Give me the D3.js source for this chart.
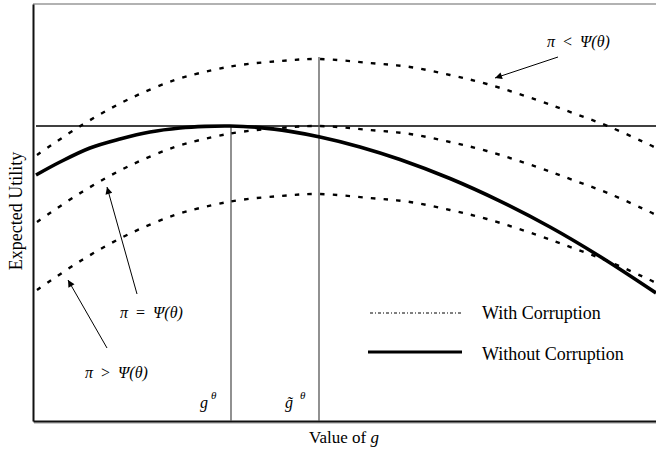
<!DOCTYPE html>
<html><head><meta charset="utf-8">
<script src="https://cdn.jsdelivr.net/npm/d3@7"></script>
<style>
html,body{margin:0;padding:0;background:#fff;}
text{font-family:"Liberation Serif","Times New Roman",serif;fill:#000;}
</style></head>
<body><svg id="c" width="656" height="452"></svg>
<script>
// ---- data (g in abstract units, utility in abstract units) ----
const gValues      = [0.4, 4.9, 9.4, 14.2, 18.0, 20.7, 24.7, 28.5, 33.7, 37.7, 41.7, 45.4, 50.4, 54.0, 57.7, 61.7, 62.3];
const withCorrHigh = [26.6, 29.6, 32.1, 34.1, 35.1, 35.6, 36.0, 36.2, 35.8, 35.4, 34.6, 33.7, 32.1, 30.8, 29.4, 27.6, 27.3];
const withCorrEq   = [19.9, 22.9, 25.4, 27.4, 28.4, 28.9, 29.3, 29.5, 29.1, 28.7, 27.9, 27.0, 25.4, 24.1, 22.7, 20.9, 20.6];
const withCorrLow  = [13.1, 16.1, 18.6, 20.6, 21.6, 22.1, 22.5, 22.7, 22.3, 21.9, 21.1, 20.2, 18.6, 17.3, 15.9, 14.1, 13.8];
const gNoCorr      = [0.3, 2.7, 5.7, 8.7, 11.7, 14.7, 17.2, 19.7, 22.7, 25.7, 28.7, 32.7, 36.7, 41.7, 46.7, 51.7, 56.7, 62.3];
const withoutCorr  = [24.6, 25.9, 27.3, 28.2, 28.9, 29.3, 29.46, 29.5, 29.34, 28.96, 28.4, 27.41, 26.15, 24.25, 21.99, 19.4, 16.45, 12.8];
const refLevel = 29.5;      // horizontal reference utility
const gTheta = 19.8;        // g^theta
const gTildeTheta = 28.6;   // g~^theta
const xLabel = "Value of ", xLabelVar = "g";
const yLabel = "Expected Utility";
const legendLabels = ["With Corruption", "Without Corruption"];

const svg = d3.select("#c");
const x = d3.scaleLinear().domain([0, 62.3]).range([33, 656]);
const y = d3.scaleLinear().domain([0, 41.7]).range([421, 4]);

const line = d3.line().x(d => x(d[0])).y(d => y(d[1])).curve(d3.curveCatmullRom.alpha(0.5));

// frame
svg.append("line").attr("x1", 33).attr("x2", 656).attr("y1", 4).attr("y2", 4)
  .attr("stroke", "#999").attr("stroke-width", 1.5);
svg.append("line").attr("x1", 34).attr("x2", 656).attr("y1", 423).attr("y2", 423)
  .attr("stroke", "#999").attr("stroke-width", 1.2);

// axes (no ticks)
svg.append("g").attr("transform", "translate(0,421)")
  .call(d3.axisBottom(x).tickValues([]).tickSizeOuter(0))
  .select(".domain").attr("stroke", "#111").attr("stroke-width", 2);
svg.append("g").attr("transform", "translate(33,0)")
  .call(d3.axisLeft(y).tickValues([]).tickSizeOuter(0))
  .select(".domain").attr("stroke", "#111").attr("stroke-width", 2);

// horizontal reference
svg.append("line").attr("x1", x(0.3)).attr("x2", x(62.3))
  .attr("y1", y(refLevel)).attr("y2", y(refLevel))
  .attr("stroke", "#000").attr("stroke-width", 1.3);

// vertical lines
svg.append("line").attr("x1", x(gTheta)).attr("x2", x(gTheta))
  .attr("y1", y(refLevel)).attr("y2", y(0))
  .attr("stroke", "#555").attr("stroke-width", 1.3);
svg.append("line").attr("x1", x(gTildeTheta)).attr("x2", x(gTildeTheta))
  .attr("y1", y(36.4)).attr("y2", y(0))
  .attr("stroke", "#555").attr("stroke-width", 1.3);

// dotted curves
[withCorrHigh, withCorrEq, withCorrLow].forEach(s => {
  svg.append("path").datum(gValues.map((g, i) => [g, s[i]]))
    .attr("d", line).attr("fill", "none").attr("stroke", "#000")
    .attr("stroke-width", 2.4).attr("stroke-dasharray", "4.5 8.2");
});
// solid curve
svg.append("path").datum(gNoCorr.map((g, i) => [g, withoutCorr[i]]))
  .attr("d", line).attr("fill", "none").attr("stroke", "#000")
  .attr("stroke-width", 3.6);

// arrows
svg.append("defs").append("marker").attr("id", "ah")
  .attr("viewBox", "0 0 10 10").attr("refX", 10).attr("refY", 5)
  .attr("markerWidth", 11).attr("markerHeight", 7).attr("markerUnits", "userSpaceOnUse")
  .attr("orient", "auto")
  .append("path").attr("d", "M0,0 L10,5 L0,10 Z").attr("fill", "#000");
const arrows = [
  [[52.5, 36.4], [46.2, 34.3]],
  [[10.4, 12.7], [7.4, 23.4]],
  [[7.4, 7.3], [3.5, 14.1]]
];
arrows.forEach(a => {
  svg.append("line").attr("x1", x(a[0][0])).attr("y1", y(a[0][1]))
    .attr("x2", x(a[1][0])).attr("y2", y(a[1][1]))
    .attr("stroke", "#000").attr("stroke-width", 1).attr("marker-end", "url(#ah)");
});

// annotation labels
function piLabel(px, py, rel) {
  const t = svg.append("text").attr("x", px).attr("y", py).attr("font-size", 16)
    .attr("xml:space", "preserve");
  t.append("tspan").attr("font-style", "italic").text("\u03C0");
  t.append("tspan").text("  " + rel + "  ");
  t.append("tspan").attr("font-style", "italic").text("\u03A8(\u03B8)");
}
piLabel(547, 47, "<");
piLabel(120, 318, "=");
piLabel(85, 378, ">");

// g labels
const gl1 = svg.append("text").attr("x", 200).attr("y", 408).attr("font-size", 16).attr("font-style", "italic");
gl1.append("tspan").text("g");
gl1.append("tspan").attr("font-size", 11).attr("dx", 3).attr("dy", -9).text("\u03B8");
const gl2 = svg.append("text").attr("x", 285).attr("y", 408).attr("font-size", 16).attr("font-style", "italic");
gl2.append("tspan").text("g\u0303");
gl2.append("tspan").attr("font-size", 11).attr("dx", 7).attr("dy", -9).text("\u03B8");

// axis labels
const xl = svg.append("text").attr("x", 344).attr("y", 443).attr("font-size", 17).attr("text-anchor", "middle");
xl.append("tspan").text(xLabel);
xl.append("tspan").attr("font-style", "italic").text(xLabelVar);
svg.append("text").attr("transform", "translate(22,211) rotate(-90)")
  .attr("text-anchor", "middle").attr("font-size", 18).text(yLabel);

// legend
svg.append("line").attr("x1", 370).attr("x2", 463).attr("y1", 313).attr("y2", 313)
  .attr("stroke", "#000").attr("stroke-width", 1).attr("stroke-dasharray", "3 2 1 2");
svg.append("line").attr("x1", 368).attr("x2", 462).attr("y1", 352).attr("y2", 352)
  .attr("stroke", "#000").attr("stroke-width", 3.2);
svg.append("text").attr("x", 482).attr("y", 319).attr("font-size", 18).text(legendLabels[0]);
svg.append("text").attr("x", 482).attr("y", 360).attr("font-size", 18).text(legendLabels[1]);
</script></body></html>
